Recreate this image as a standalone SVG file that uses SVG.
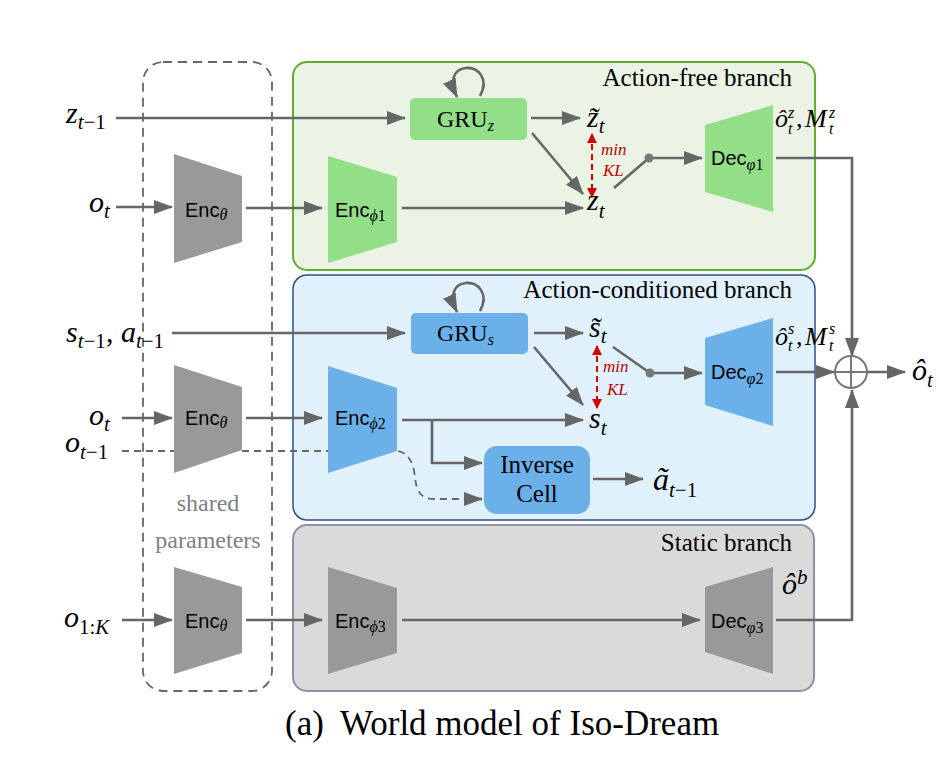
<svg xmlns="http://www.w3.org/2000/svg" width="939" height="761" viewBox="0 0 939 761">
<defs>
<style>
.sans{font-family:"Liberation Sans",Arial,sans-serif;font-size:20px;fill:#000}
.ser{font-family:"Liberation Serif","Times New Roman",serif;fill:#000}
.it{font-family:"Liberation Serif","Times New Roman",serif;font-style:italic;fill:#000}
.sub{font-family:"Liberation Serif","Times New Roman",serif;font-style:italic;font-size:16px}
.subr{font-family:"Liberation Serif","Times New Roman",serif;font-style:normal;font-size:16px}
.ar{stroke:#666;stroke-width:2.6;fill:none;marker-end:url(#ah)}
.ln{stroke:#666;stroke-width:2.6;fill:none}
.dash{stroke:#666;stroke-width:1.8;fill:none;stroke-dasharray:7 5}
.red{stroke:#d40000;stroke-width:2;fill:none;stroke-dasharray:6 4;marker-end:url(#rh);marker-start:url(#rh)}
.gray{fill:#999}
.green{fill:#93df88}
.blue{fill:#6cb0ea}
.lbl{font-family:"Liberation Serif","Times New Roman",serif;font-size:25px;fill:#000;text-anchor:end}
.kl{font-family:"Liberation Serif","Times New Roman",serif;font-style:italic;font-size:17px;fill:#c00000}
</style>
<marker id="ah" markerUnits="userSpaceOnUse" viewBox="0 0 19 14" markerWidth="19" markerHeight="14" refX="18" refY="7" orient="auto"><path d="M0,0 L19,7 L0,14 z" fill="#666"/></marker>
<marker id="rh" markerUnits="userSpaceOnUse" viewBox="0 0 10 10" markerWidth="10" markerHeight="10" refX="9" refY="5" orient="auto-start-reverse"><path d="M0,0 L10,5 L0,10 z" fill="#d40000"/></marker>
</defs>

<g id="panel-action-free">
<rect x="293" y="62" width="522" height="208" rx="14" fill="#ebf3e4" stroke="#5fae2e" stroke-width="2"/>
<text class="lbl" x="792" y="86">Action-free branch</text>
</g>
<g id="panel-action-conditioned">
<rect x="293" y="275" width="522" height="245" rx="14" fill="#e1f1fc" stroke="#2a5285" stroke-width="1.5"/>
<text class="lbl" x="792" y="298">Action-conditioned branch</text>
</g>
<g id="panel-static">
<rect x="293" y="525" width="521" height="166" rx="14" fill="#dadada" stroke="#8d91a6" stroke-width="2"/>
<text class="lbl" x="792" y="551">Static branch</text>
</g>
<g id="shared-parameters">
<rect x="143" y="62" width="129" height="629" rx="20" fill="none" stroke="#666" stroke-width="1.8" stroke-dasharray="9 6"/>
<text class="ser" x="208" y="511" font-size="24" text-anchor="middle" style="fill:#808080">shared</text>
<text class="ser" x="208" y="548" font-size="24" text-anchor="middle" style="fill:#808080">parameters</text>
</g>

<g id="connectors">
<line class="ar" x1="116" y1="118" x2="405" y2="118"/>
<line class="ar" x1="116" y1="207" x2="172" y2="207"/>
<line class="ar" x1="246" y1="208" x2="322" y2="208"/>
<line class="ar" x1="402" y1="208" x2="583" y2="208"/>
<line class="ar" x1="531" y1="118" x2="580" y2="118"/>
<line class="ar" x1="532" y1="133" x2="583" y2="194"/>
<line class="red" x1="592" y1="134" x2="592" y2="197"/>
<line class="ln" x1="614" y1="188" x2="649" y2="158" stroke-width="2"/>
<line class="ar" x1="649" y1="158" x2="702" y2="158"/>
<path class="ar" d="M480,96 C490,78 477,67 466,68 C454,69 449,80 457,97"/>
<path class="ar" d="M776,158 H852 V356"/>
<line class="ar" x1="776" y1="372" x2="834" y2="372"/>
<line class="ar" x1="868" y1="372" x2="905" y2="372"/>
<path class="ar" d="M776,620 H852 V390"/>

<line class="ar" x1="172" y1="333" x2="405" y2="333"/>
<line class="ar" x1="122" y1="418" x2="172" y2="418"/>
<line class="ar" x1="246" y1="418" x2="322" y2="418"/>
<line class="ar" x1="402" y1="420" x2="583" y2="420"/>
<path class="ar" d="M432,420 V463 H482"/>
<path class="dash" d="M122,451 H395 C410,451 414,466 415,478 C417,492 421,499 434,499 H468"/>
<path class="ar" d="M464,499 H482" stroke-width="1.8"/>
<line class="ar" x1="534" y1="333" x2="583" y2="333"/>
<line class="ar" x1="534" y1="347" x2="583" y2="405"/>
<line class="red" x1="597" y1="346" x2="597" y2="408"/>
<line class="ln" x1="613" y1="347" x2="650" y2="373" stroke-width="2"/>
<line class="ar" x1="650" y1="373" x2="702" y2="373"/>
<path class="ar" d="M480,311 C490,293 477,282 466,283 C454,284 449,295 457,312"/>
<line class="ar" x1="593" y1="479" x2="643" y2="479"/>

<line class="ar" x1="122" y1="620" x2="172" y2="620"/>
<line class="ar" x1="246" y1="620" x2="322" y2="620"/>
<line class="ar" x1="402" y1="620" x2="700" y2="620"/>

<circle cx="649" cy="158" r="4.5" fill="#777"/>
<circle cx="650" cy="373" r="4.5" fill="#777"/>
<text class="kl" x="601" y="155">min</text>
<text class="kl" x="603" y="176">KL</text>
<text class="kl" x="603" y="372">min</text>
<text class="kl" x="607" y="395">KL</text>
</g>

<g id="enc-theta-1">
<polygon class="gray" points="174,154 242,176 242,242 174,263"/>
<text class="sans" x="185" y="217">Enc<tspan class="sub" dy="3">θ</tspan></text>
</g>
<g id="enc-phi1">
<polygon class="green" points="328,156 397,177 397,242 328,263"/>
<text class="sans" x="335" y="217">Enc<tspan class="sub" dy="4">ϕ</tspan><tspan class="subr">1</tspan></text>
</g>
<g id="gru-z">
<rect x="410" y="98" width="117" height="42" rx="5" class="green"/>
<text class="ser" x="437" y="127" font-size="24">GRU<tspan class="sub" dy="4" font-size="17">z</tspan></text>
</g>
<g id="dec-phi1">
<polygon class="green" points="705,125 773,105 773,212 705,192"/>
<text class="sans" x="711" y="165">Dec<tspan class="sub" dy="5">φ</tspan><tspan class="subr">1</tspan></text>
</g>

<g id="enc-theta-2">
<polygon class="gray" points="174,365 242,387 242,450 174,473"/>
<text class="sans" x="185" y="425">Enc<tspan class="sub" dy="3">θ</tspan></text>
</g>
<g id="enc-phi2">
<polygon class="blue" points="328,366 397,388 397,451 328,473"/>
<text class="sans" x="335" y="425">Enc<tspan class="sub" dy="4">ϕ</tspan><tspan class="subr">2</tspan></text>
</g>
<g id="gru-s">
<rect x="411" y="313" width="117" height="41" rx="5" class="blue"/>
<text class="ser" x="437" y="341" font-size="24">GRU<tspan class="sub" dy="4" font-size="17">s</tspan></text>
</g>
<g id="inverse-cell">
<rect x="484" y="446" width="106" height="68" rx="13" class="blue"/>
<text class="ser" x="537" y="473" font-size="25" text-anchor="middle">Inverse</text>
<text class="ser" x="537" y="502" font-size="25" text-anchor="middle">Cell</text>
</g>
<g id="dec-phi2">
<polygon class="blue" points="705,338 773,318 773,426 705,405"/>
<text class="sans" x="711" y="379">Dec<tspan class="sub" dy="5">φ</tspan><tspan class="subr">2</tspan></text>
</g>

<g id="enc-theta-3">
<polygon class="gray" points="174,567 242,587 242,653 174,674"/>
<text class="sans" x="185" y="628">Enc<tspan class="sub" dy="3">θ</tspan></text>
</g>
<g id="enc-phi3">
<polygon class="gray" points="328,567 397,588 397,653 328,674"/>
<text class="sans" x="335" y="628">Enc<tspan class="sub" dy="4">ϕ</tspan><tspan class="subr">3</tspan></text>
</g>
<g id="dec-phi3">
<polygon class="gray" points="705,587 773,567 773,674 705,652"/>
<text class="sans" x="711" y="628">Dec<tspan class="sub" dy="5">φ</tspan><tspan class="subr">3</tspan></text>
</g>

<g id="sum">
<circle cx="851" cy="372" r="16" fill="#fff" stroke="#777" stroke-width="2"/>
<line x1="835" y1="372" x2="867" y2="372" stroke="#777" stroke-width="2"/>
<line x1="851" y1="356" x2="851" y2="388" stroke="#777" stroke-width="2"/>
</g>

<g id="labels">
<text class="it" x="66" y="123" font-size="30">z<tspan font-size="21" dy="6">t</tspan><tspan class="ser" font-size="21" font-style="normal">−1</tspan></text>
<text class="it" x="89" y="212" font-size="30">o<tspan font-size="21" dy="6">t</tspan></text>
<text class="it" x="66" y="342" font-size="30">s<tspan font-size="21" dy="6">t</tspan><tspan font-size="21" font-style="normal">−1</tspan><tspan dy="-6" font-style="normal">, </tspan>a<tspan font-size="21" dy="6">t</tspan><tspan font-size="21" font-style="normal">−1</tspan></text>
<text class="it" x="89" y="425" font-size="30">o<tspan font-size="21" dy="6">t</tspan></text>
<text class="it" x="65" y="452" font-size="30">o<tspan font-size="21" dy="7">t</tspan><tspan font-size="21" font-style="normal">−1</tspan></text>
<text class="it" x="64" y="627" font-size="30">o<tspan font-size="21" dy="7" font-style="normal">1:</tspan><tspan font-size="21">K</tspan></text>

<text class="it" x="587" y="127" font-size="30">z̃<tspan font-size="21" dy="6">t</tspan></text>
<text class="it" x="587" y="210" font-size="30">z<tspan font-size="21" dy="8">t</tspan></text>
<text class="it" x="589" y="337" font-size="30">s̃<tspan font-size="21" dy="6">t</tspan></text>
<text class="it" x="589" y="428" font-size="30">s<tspan font-size="21" dy="7">t</tspan></text>
<text class="it" x="653" y="490" font-size="32">ã<tspan font-size="21" dy="7">t</tspan><tspan font-size="21" font-style="normal">−1</tspan></text>

<text class="it" x="775" y="127" font-size="26">ô</text>
<text class="it" x="788" y="118" font-size="16">z</text>
<text class="it" x="788" y="134" font-size="16">t</text>
<text class="ser" x="796" y="127" font-size="26">,</text>
<text class="it" x="805" y="127" font-size="26">M</text>
<text class="it" x="829" y="118" font-size="16">z</text>
<text class="it" x="829" y="134" font-size="16">t</text>

<text class="it" x="775" y="345" font-size="26">ô</text>
<text class="it" x="788" y="334" font-size="16">s</text>
<text class="it" x="788" y="351" font-size="16">t</text>
<text class="ser" x="796" y="345" font-size="26">,</text>
<text class="it" x="805" y="345" font-size="26">M</text>
<text class="it" x="829" y="334" font-size="16">s</text>
<text class="it" x="829" y="351" font-size="16">t</text>

<text class="it" x="912" y="380" font-size="30">ô<tspan font-size="21" dy="7">t</tspan></text>
<text class="it" x="782" y="594" font-size="30">ô<tspan font-size="21" dy="-10">b</tspan></text>
</g>

<g id="caption">
<text class="ser" x="285" y="735" font-size="35">(a)</text>
<text class="ser" x="340" y="735" font-size="35">World model of Iso-Dream</text>
</g>
</svg>
